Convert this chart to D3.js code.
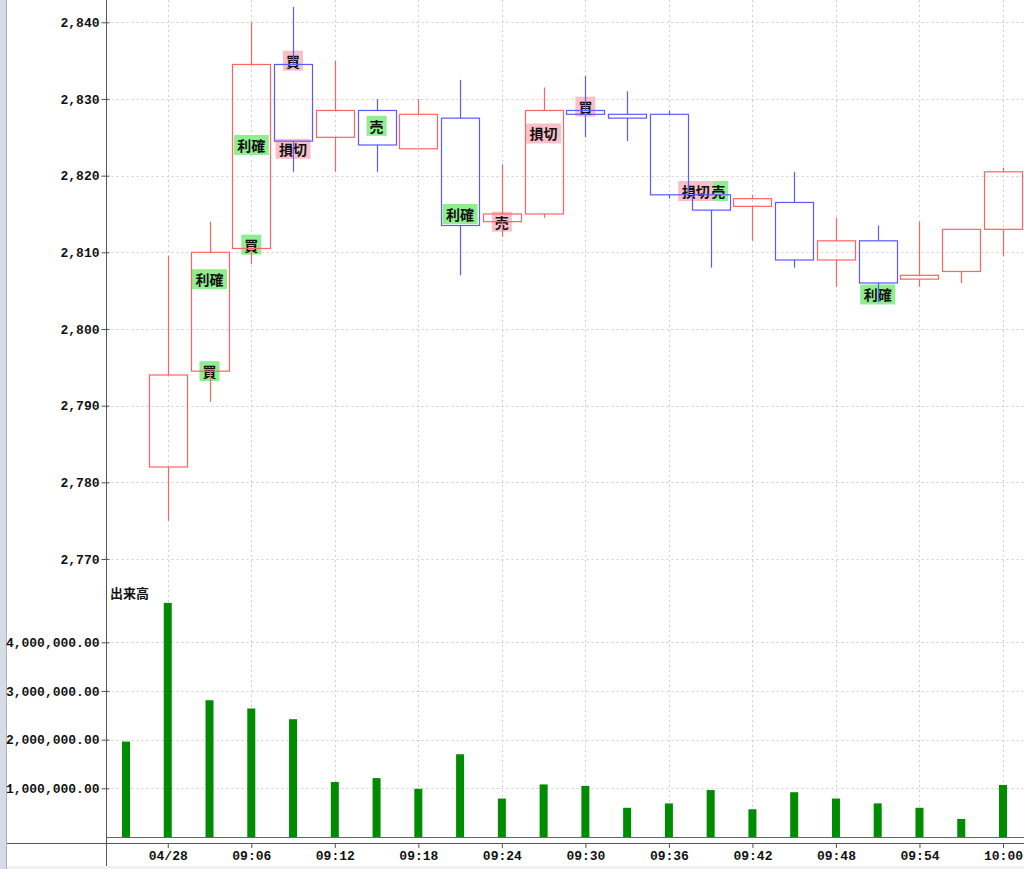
<!DOCTYPE html>
<html>
<head>
<meta charset="utf-8">
<script src="https://cdn.jsdelivr.net/npm/d3@7/dist/d3.min.js"></script>
<style>
  html, body { margin: 0; padding: 0; background: #fff; }
  svg { display: block; }
</style>
</head>
<body>
<svg id="chart" width="1024" height="869"></svg>
<script>
// ---------------- data ----------------
// slot index 0 has volume but no visible candle
const slotTimes = ["08:57","04/28","09:03","09:06","09:09","09:12","09:15","09:18","09:21","09:24","09:27",
                   "09:30","09:33","09:36","09:39","09:42","09:45","09:48","09:51","09:54","09:57","10:00"];
const openP  = [null, 2782, 2794.5, 2810.5, 2834.5, 2825, 2828.5, 2823.5, 2827.5, 2814, 2815,
                2828.5, 2828, 2828, 2817.5, 2816, 2816.5, 2809, 2811.5, 2806.5, 2807.5, 2813];
const highP  = [null, 2809.5, 2814, 2840, 2842, 2835, 2830, 2830, 2832.5, 2821.5, 2831.5,
                2833, 2831, 2828.5, 2817.5, 2817.5, 2820.5, 2814.5, 2813.5, 2814, 2813, 2821];
const lowP   = [null, 2775, 2790.5, 2808.5, 2820.5, 2820.5, 2820.5, 2823.5, 2807, 2812, 2814.5,
                2825, 2824.5, 2817, 2808, 2811.5, 2808, 2805.5, 2803.5, 2805.5, 2806, 2809.5];
const closeP = [null, 2794, 2810, 2834.5, 2824.5, 2828.5, 2824, 2828, 2813.5, 2815, 2828.5,
                2828, 2827.5, 2817.5, 2815.5, 2817, 2809, 2811.5, 2806, 2807, 2813, 2820.5];
const volume = [1960000, 4810000, 2810000, 2640000, 2420000, 1130000, 1210000, 990000, 1700000, 790000, 1080000,
                1050000, 600000, 690000, 965000, 570000, 920000, 790000, 690000, 600000, 370000, 1070000];

const priceTicks  = [2770, 2780, 2790, 2800, 2810, 2820, 2830, 2840];
const volumeTicks = [1000000, 2000000, 3000000, 4000000];
const xTickSlots  = [1, 3, 5, 7, 9, 11, 13, 15, 17, 19, 21];

// trade annotations
const annSlot   = [2, 2, 3, 3, 4, 4, 6, 8, 9, 10, 11, 14, 14, 18];
const annPrice  = [2806.5, 2794.5, 2824, 2811, 2835, 2823.5, 2826.5, 2815, 2814, 2825.5, 2829, 2818, 2818, 2804.5];
const annText   = ["利確","買","利確","買","買","損切","売","利確","売","損切","買","損切","売","利確"];
const annResult = ["win","win","win","win","loss","loss","win","win","loss","loss","loss","loss","win","win"];
const volumeTitle = "出来高";

// ---------------- layout ----------------
const svg = d3.select("#chart");
const axisX = 106.5, volBase = 837, xAxisY = 843;
const monoFont = "'Liberation Mono', 'DejaVu Sans Mono', monospace";
const cjkFont = "'Noto Sans CJK JP', 'Noto Sans CJK SC', sans-serif";

const x  = d3.scaleLinear().domain([0, 21]).range([126, 1003]);
const yP = d3.scaleLinear().domain([2770, 2840]).range([559, 22.3]);
const yV = d3.scaleLinear().domain([0, 4000000]).range([volBase, 642.3]);

const upCol = "#ff6464", downCol = "#5a5aff";
const gridCol = "#cfcfcf";

// window-frame strips
svg.append("rect").attr("x", 0).attr("y", 0).attr("width", 6).attr("height", 869).attr("fill", "#d5dce6");
svg.append("line").attr("x1", 6.5).attr("x2", 6.5).attr("y1", 0).attr("y2", 869).attr("stroke", "#aab2bd");
svg.append("rect").attr("x", 7).attr("y", 866).attr("width", 1017).attr("height", 3).attr("fill", "#f0f0f0");

// grid
const grid = svg.append("g").attr("stroke", gridCol).attr("stroke-dasharray", "2,3").attr("stroke-width", 1);
grid.selectAll(".vg").data(xTickSlots).join("line")
  .attr("x1", d => Math.round(x(d)) + 0.5).attr("x2", d => Math.round(x(d)) + 0.5)
  .attr("y1", 0).attr("y2", volBase);
grid.selectAll(".hg").data(priceTicks).join("line")
  .attr("x1", axisX).attr("x2", 1024)
  .attr("y1", d => Math.round(yP(d)) + 0.5).attr("y2", d => Math.round(yP(d)) + 0.5);
grid.selectAll(".hv").data(volumeTicks).join("line")
  .attr("x1", axisX).attr("x2", 1024)
  .attr("y1", d => Math.round(yV(d)) + 0.5).attr("y2", d => Math.round(yV(d)) + 0.5);

// volume bars
svg.append("g").selectAll("rect").data(volume).join("rect")
  .attr("x", (d, i) => x(i) - 4).attr("width", 8)
  .attr("y", d => yV(d)).attr("height", d => volBase - yV(d))
  .attr("fill", "#008c00");

// annotations: compute layout (labels sharing a slot & price are placed side by side)
const anns = annSlot.map((s, i) => ({
  slot: s, price: annPrice[i], text: annText[i], result: annResult[i],
  w: annText[i].length === 1 ? 20 : 35, h: 20
}));
const groups = d3.group(anns, d => d.slot + "|" + d.price);
for (const [, g] of groups) {
  if (g.length === 1) { g[0].cx = x(g[0].slot); continue; }
  let cx = x(g[0].slot) - 15;
  g.forEach((a, k) => {
    if (k > 0) cx += g[k - 1].w / 2 + a.w / 2 - 5;
    a.cx = cx;
  });
}
const annG = svg.append("g");
annG.selectAll("rect").data(anns.slice().sort((a, b) => (a.result === "win" ? 0 : 1) - (b.result === "win" ? 0 : 1)))
  .join("rect")
  .attr("x", d => d.cx - d.w / 2).attr("y", d => yP(d.price) - d.h / 2)
  .attr("width", d => d.w).attr("height", d => d.h)
  .attr("fill", d => d.result === "win" ? "#90ee90" : "#f8c0c8");

// candles
const candles = d3.range(openP.length).filter(i => openP[i] !== null).map(i => ({
  i, o: openP[i], h: highP[i], l: lowP[i], c: closeP[i]
}));
const cg = svg.append("g").attr("stroke-width", 1.2);
const bodyW = 38;
candles.forEach(d => {
  const up = d.c >= d.o;
  const col = up ? upCol : downCol;
  const top = Math.max(d.o, d.c), bot = Math.min(d.o, d.c);
  const cx = Math.round(x(d.i)) + 0.5;
  if (d.h > top) cg.append("line").attr("x1", cx).attr("x2", cx).attr("y1", yP(d.h)).attr("y2", yP(top)).attr("stroke", col);
  if (d.l < bot) cg.append("line").attr("x1", cx).attr("x2", cx).attr("y1", yP(bot)).attr("y2", yP(d.l)).attr("stroke", col);
  cg.append("rect")
    .attr("x", Math.round(x(d.i) - bodyW / 2) + 0.5).attr("width", bodyW)
    .attr("y", yP(top)).attr("height", Math.max(yP(bot) - yP(top), 2))
    .attr("fill", "none").attr("stroke", col);
});

// annotation text
annG.selectAll("text").data(anns).join("text")
  .attr("x", d => d.cx).attr("y", d => yP(d.price))
  .attr("text-anchor", "middle").attr("dominant-baseline", "central")
  .attr("font-family", cjkFont).attr("font-weight", "bold").attr("font-size", 14)
  .attr("fill", "#111").text(d => d.text);

// axes lines
svg.append("line").attr("x1", axisX).attr("x2", axisX).attr("y1", 0).attr("y2", 866).attr("stroke", "#555");
svg.append("line").attr("x1", axisX).attr("x2", 1024).attr("y1", volBase + 0.5).attr("y2", volBase + 0.5).attr("stroke", "#666");
svg.append("line").attr("x1", 7).attr("x2", 1024).attr("y1", xAxisY + 0.5).attr("y2", xAxisY + 0.5).attr("stroke", "#555");

function styleAxis(g) {
  g.select(".domain").remove();
  g.selectAll(".tick line").attr("stroke", "#555");
  g.selectAll(".tick text").attr("font-family", monoFont).attr("font-weight", "bold")
    .attr("font-size", 13).attr("fill", "#111");
}

svg.append("g").attr("transform", `translate(${axisX},0)`)
  .call(d3.axisLeft(yP).tickValues(priceTicks).tickFormat(d3.format(",")).tickSize(5).tickPadding(2))
  .call(styleAxis)
  .call(g => g.selectAll(".tick line").attr("x2", -5).attr("x1", 3));

svg.append("g").attr("transform", `translate(${axisX},0)`)
  .call(d3.axisLeft(yV).tickValues(volumeTicks).tickFormat(d3.format(",.2f")).tickSize(5).tickPadding(2))
  .call(styleAxis)
  .call(g => g.selectAll(".tick line").attr("x2", -5).attr("x1", 3));

svg.append("g").attr("transform", `translate(0,${xAxisY})`)
  .call(d3.axisBottom(x).tickValues(xTickSlots).tickFormat(i => slotTimes[i]).tickSize(5).tickPadding(3))
  .call(styleAxis);

// volume panel title
svg.append("text").attr("x", 110).attr("y", 592)
  .attr("dominant-baseline", "central")
  .attr("font-family", cjkFont).attr("font-weight", "bold").attr("font-size", 13)
  .attr("fill", "#111").text(volumeTitle);
</script>
</body>
</html>
